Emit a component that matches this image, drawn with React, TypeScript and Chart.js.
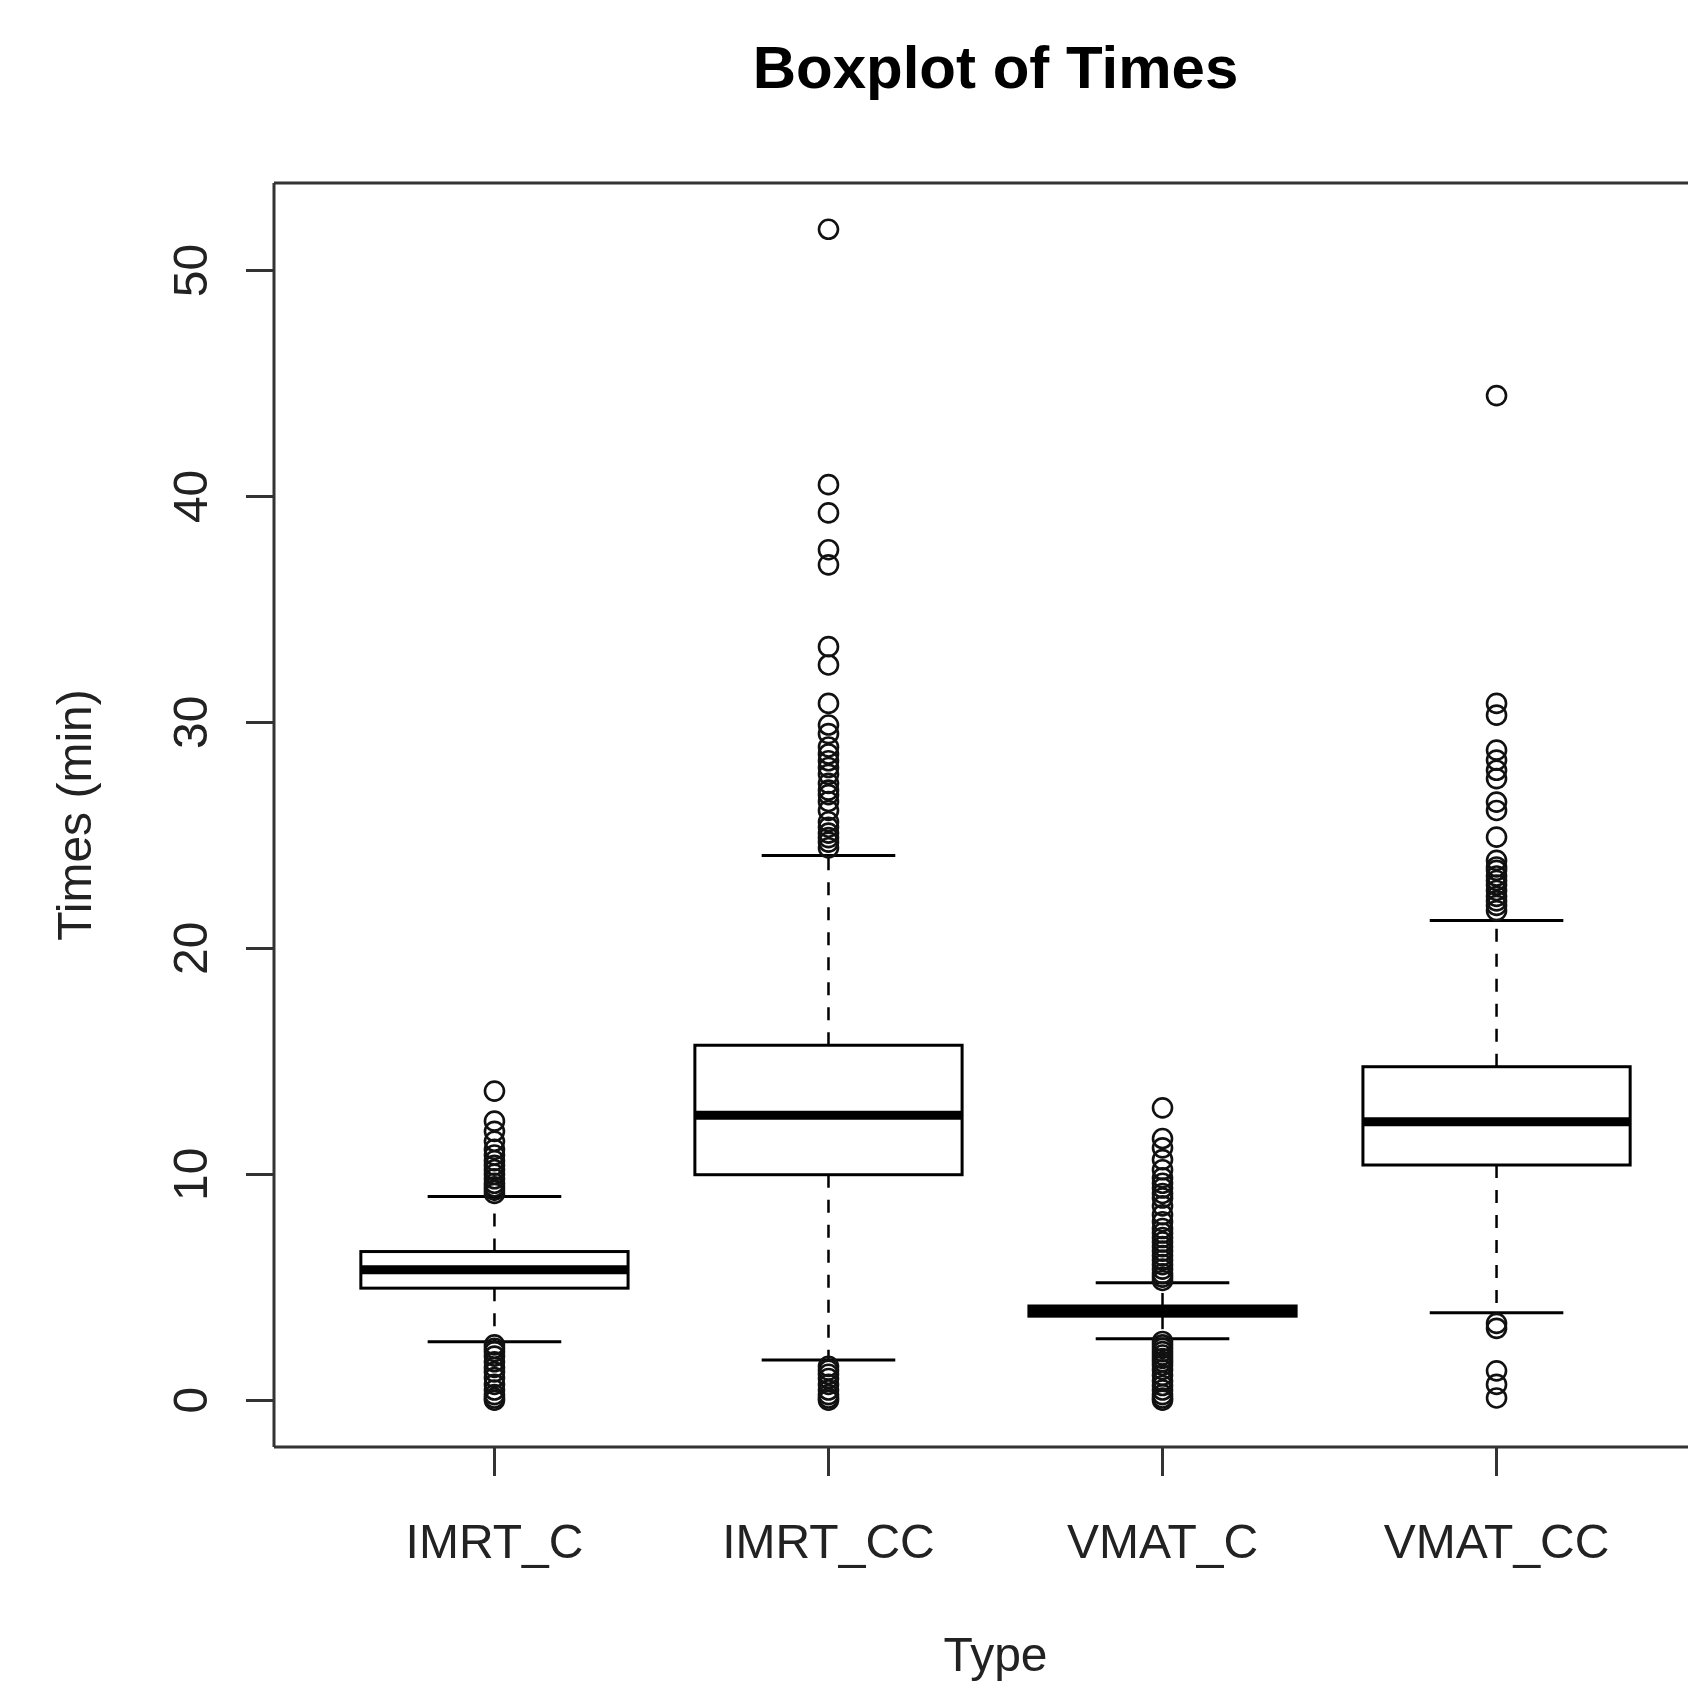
import { useEffect, useRef } from "react";
import { Chart, registerables } from "chart.js";

Chart.register(...registerables);

const CATEGORIES = ["IMRT_C", "IMRT_CC", "VMAT_C", "VMAT_CC"];

// five-number summary (minutes)
const WHISKER_LOW = [2.59, 1.78, 2.72, 3.87];
const Q1 = [4.96, 9.98, 3.72, 10.41];
const MEDIANS = [5.77, 12.61, 3.93, 12.32];
const Q3 = [6.58, 15.71, 4.17, 14.76];
const WHISKER_HIGH = [9.02, 24.11, 5.2, 21.23];

const OUTLIERS_IMRT_C = [
  13.68, 12.35, 11.9, 11.46, 11.1, 10.85, 10.6, 10.4, 10.2, 10.0, 9.8, 9.6, 9.45, 9.3, 9.15,
  2.45, 2.3, 2.15, 1.95, 1.7, 1.45, 1.25, 1.0, 0.7, 0.45, 0.25, 0.1, 0.0,
];
const OUTLIERS_IMRT_CC = [
  51.82, 40.52, 39.27, 37.64, 36.97, 33.35, 32.54, 30.84, 29.88, 29.5, 28.91, 28.6, 28.3,
  28.0, 27.7, 27.3, 27.0, 26.8, 26.5, 26.1, 25.6, 25.36, 25.1, 24.9, 24.7, 24.45,
  1.5, 1.33, 1.15, 0.96, 0.7, 0.45, 0.25, 0.1, 0.0,
];
const OUTLIERS_VMAT_C = [
  12.94, 11.58, 11.17, 10.65, 10.2, 9.84, 9.6, 9.39, 9.15, 8.95, 8.6, 8.21, 7.9, 7.6, 7.4,
  7.2, 7.0, 6.8, 6.6, 6.4, 6.2, 6.0, 5.8, 5.6, 5.45, 5.3,
  2.6, 2.45, 2.3, 2.15, 2.0, 1.85, 1.7, 1.55, 1.35, 1.1, 0.85, 0.65, 0.45, 0.25, 0.1, 0.0,
];
const OUTLIERS_VMAT_CC = [
  44.46, 30.84, 30.32, 28.77, 28.33, 27.88, 27.51, 26.47, 26.1, 24.92, 23.89, 23.6, 23.45,
  23.2, 23.0, 22.8, 22.56, 22.3, 22.1, 21.9, 21.67,
  3.4, 3.18, 1.3, 0.7, 0.1,
];
const OUTLIERS = [OUTLIERS_IMRT_C, OUTLIERS_IMRT_CC, OUTLIERS_VMAT_C, OUTLIERS_VMAT_CC];

const Y_TICKS = [0, 10, 20, 30, 40, 50];

const FONT_FAMILY = "'Liberation Sans', Arial, sans-serif";
const TEXT_COLOR = "#222";
const LINE_COLOR = "#333";

const BOX_WIDTH = 0.8;
const STAPLE_WIDTH = 0.4;

const boxplotPlugin = {
  id: "boxplot",
  beforeDatasetsDraw(chart: Chart) {
    const { ctx } = chart;
    const x = chart.scales.x;
    const y = chart.scales.y;

    const line = (x1: number, y1: number, x2: number, y2: number) => {
      ctx.beginPath();
      ctx.moveTo(x1, y1);
      ctx.lineTo(x2, y2);
      ctx.stroke();
    };

    ctx.save();
    ctx.strokeStyle = "#000";
    ctx.lineCap = "butt";

    CATEGORIES.forEach((_, i) => {
      const cx = x.getPixelForValue(i + 1);
      const boxHalf = x.getPixelForValue(i + 1 + BOX_WIDTH / 2) - cx;
      const stapleHalf = x.getPixelForValue(i + 1 + STAPLE_WIDTH / 2) - cx;
      const yLow = y.getPixelForValue(WHISKER_LOW[i]);
      const yQ1 = y.getPixelForValue(Q1[i]);
      const yMed = y.getPixelForValue(MEDIANS[i]);
      const yQ3 = y.getPixelForValue(Q3[i]);
      const yHigh = y.getPixelForValue(WHISKER_HIGH[i]);

      // dashed whiskers
      ctx.lineWidth = 2.5;
      ctx.setLineDash([13, 12]);
      line(cx, yQ3, cx, yHigh);
      line(cx, yQ1, cx, yLow);
      ctx.setLineDash([]);

      // staples
      ctx.lineWidth = 3;
      line(cx - stapleHalf, yHigh, cx + stapleHalf, yHigh);
      line(cx - stapleHalf, yLow, cx + stapleHalf, yLow);

      // box
      ctx.lineWidth = 3;
      ctx.strokeRect(cx - boxHalf, yQ3, boxHalf * 2, yQ1 - yQ3);

      // median
      ctx.lineWidth = 9;
      line(cx - boxHalf, yMed, cx + boxHalf, yMed);
    });

    // plot frame (right edge falls outside the picture)
    const { left, right, top, bottom } = chart.chartArea;
    ctx.strokeStyle = LINE_COLOR;
    ctx.lineWidth = 3;
    line(left, top, right, top);
    line(left, top, left, bottom);
    line(left, bottom, right, bottom);
    ctx.restore();
  },
};

function App() {
  const chartRef = useRef<HTMLCanvasElement | null>(null);
  const chartInstance = useRef<Chart | null>(null);

  useEffect(() => {
    if (!chartRef.current) return;
    const ctx = chartRef.current.getContext("2d");
    if (!ctx) return;

    if (chartInstance.current) {
      chartInstance.current.destroy();
    }

    const points = CATEGORIES.flatMap((_, i) =>
      OUTLIERS[i].map((v) => ({ x: i + 1, y: v }))
    );

    chartInstance.current = new Chart(ctx, {
      type: "scatter",
      data: {
        datasets: [
          {
            label: "Outliers",
            data: points,
            pointStyle: "circle",
            pointRadius: 9.5,
            pointBorderWidth: 2.6,
            pointBorderColor: "#111",
            pointBackgroundColor: "rgba(0,0,0,0)",
            showLine: false,
          },
        ],
      },
      options: {
        responsive: false,
        animation: false,
        layout: {
          padding: { left: 0, right: 13, top: 0, bottom: 0 },
        },
        plugins: {
          legend: { display: false },
          tooltip: { enabled: false },
          title: {
            display: true,
            text: "Boxplot of Times",
            fullSize: false,
            color: "#000",
            font: { family: FONT_FAMILY, size: 60, weight: "bold" },
            padding: { top: 35, bottom: 76 },
          },
        },
        scales: {
          x: {
            type: "linear",
            min: 0.34,
            max: 4.66,
            afterBuildTicks: (scale: any) => {
              scale.ticks = CATEGORIES.map((_, i) => ({ value: i + 1 }));
            },
            afterFit: (scale: any) => {
              scale.height = 240;
            },
            ticks: {
              autoSkip: false,
              minRotation: 0,
              maxRotation: 0,
              padding: 40,
              color: TEXT_COLOR,
              font: { family: FONT_FAMILY, size: 48 },
              callback: (_v: any, index: number) => CATEGORIES[index],
            },
            grid: {
              display: true,
              drawOnChartArea: false,
              drawTicks: true,
              tickLength: 29,
              color: LINE_COLOR,
              lineWidth: 3,
            },
            border: { display: false },
            title: {
              display: true,
              text: "Type",
              color: TEXT_COLOR,
              font: { family: FONT_FAMILY, size: 48 },
              padding: { top: 0, bottom: 0 },
            },
          },
          y: {
            type: "linear",
            min: -2.07,
            max: 53.87,
            afterBuildTicks: (scale: any) => {
              scale.ticks = Y_TICKS.map((v) => ({ value: v }));
            },
            afterFit: (scale: any) => {
              scale.width = 274;
            },
            ticks: {
              minRotation: 90,
              maxRotation: 90,
              crossAlign: "center",
              padding: 26,
              color: TEXT_COLOR,
              font: { family: FONT_FAMILY, size: 48 },
              callback: (v: any) => String(v),
            },
            grid: {
              display: true,
              drawOnChartArea: false,
              drawTicks: true,
              tickLength: 28,
              color: LINE_COLOR,
              lineWidth: 3,
            },
            border: { display: false },
            title: {
              display: true,
              text: "Times (min)",
              color: TEXT_COLOR,
              font: { family: FONT_FAMILY, size: 48 },
              padding: { top: 49, bottom: 0 },
            },
          },
        },
      },
      plugins: [boxplotPlugin],
    });

    return () => {
      if (chartInstance.current) {
        chartInstance.current.destroy();
        chartInstance.current = null;
      }
    };
  }, []);

  return (
    <div
      style={{
        position: "absolute",
        left: 0,
        top: 0,
        width: 1688,
        height: 1687,
        overflow: "hidden",
        background: "#fff",
      }}
    >
      <canvas ref={chartRef} width={1730} height={1687} />
    </div>
  );
}

export default App;
